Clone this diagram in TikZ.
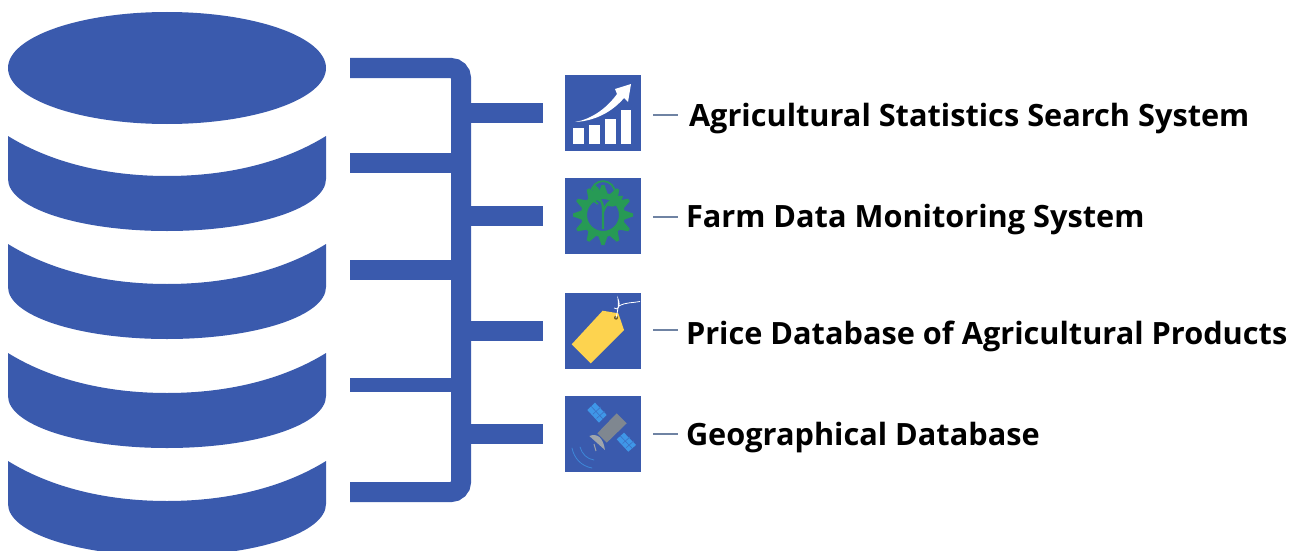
\documentclass[tikz,border=0pt]{standalone}
\usepackage{fontspec}
\setmainfont{Open Sans}
\usetikzlibrary{calc}
\definecolor{dbblue}{HTML}{3A5AAD}
\definecolor{dashc}{HTML}{6F83A3}
\definecolor{gearg}{HTML}{279A55}
\definecolor{tagy}{HTML}{FDD34F}
\definecolor{panelb}{HTML}{3F97E8}
\definecolor{satg}{HTML}{7F8790}
\tikzset{
  band/.style={fill=dbblue,draw=none},
  busline/.style={draw=dbblue,line width=20pt,line cap=butt},
  thinbus/.style={draw=dbblue,line width=14pt,line cap=butt},
  iconbox/.style={draw=none,fill=dbblue,minimum width=76pt,minimum height=76pt,inner sep=0pt,outer sep=0pt},
  tick/.style={draw=dashc,line width=1.8pt},
  label/.style={anchor=west,inner sep=0pt,outer sep=0pt,font=\fontsize{30.7pt}{34pt}\selectfont\bfseries,text=black},
}
\begin{document}
\begin{tikzpicture}[x=1pt,y=-1pt]
\useasboundingbox (0,0) rectangle (1303,551);
% database cylinder
\begin{scope}
\clip (0,0) rectangle (1303,551);
\fill[band] (167,68) ellipse [x radius=159pt,y radius=56pt];
\foreach \y in {136,244,353,461}{
  \fill[band] (8,\y) .. controls (50,{\y+26}) and (105,{\y+40}) .. (167,{\y+40})
     .. controls (229,{\y+40}) and (284,{\y+26}) .. (326,\y)
     -- (326,{\y+43}) .. controls (326,{\y+72}) and (255,{\y+95}) .. (167,{\y+95})
     .. controls (79,{\y+95}) and (8,{\y+72}) .. (8,{\y+43}) -- cycle;
}
\end{scope}
% icons
\node[iconbox] (i1) at (603,113) {};
\node[iconbox] (i2) at (603,216) {};
\node[iconbox] (i3) at (603,331) {};
\node[iconbox] (i4) at (603,434) {};
% labels
\node[label] (t1) at (689,119) {Agricultural Statistics Search System};
\node[label] (t2) at (686,220) {Farm Data Monitoring System};
\node[label] (t3) at (686,336) {Price Database of Agricultural Products};
\node[label] (t4) at (686,438) {Geographical Database};
% bus
\coordinate (top) at (350,68);
\coordinate (bot) at (350,492);
\coordinate (l2) at (350,163);
\coordinate (l3) at (350,270);
\coordinate (l4) at (350,385);
\coordinate (j1) at (461,113);
\coordinate (j2) at (461,216);
\coordinate (j3) at (461,331);
\coordinate (j4) at (461,434);
\draw[busline,rounded corners=10pt] (top) -| (461,280) |- (bot);
\draw[busline] (l2) -- ++(105,0);
\draw[busline] (l3) -- ++(105,0);
\draw[thinbus] (l4) -- ++(105,0);
\draw[busline] (j1) -- (543,113);
\draw[busline] (j2) -- (543,216);
\draw[busline] (j3) -- (543,331);
\draw[busline] (j4) -- (543,434);
% ticks
\coordinate (d1) at (653,115); \coordinate (e1) at (678,115);
\coordinate (d2) at (653,217); \coordinate (e2) at (678,217);
\coordinate (d3) at (653,330); \coordinate (e3) at (678,330);
\coordinate (d4) at (653,434); \coordinate (e4) at (678,434);
\draw[tick] (d1) -- (e1);
\draw[tick] (d2) -- (e2);
\draw[tick] (d3) -- (e3);
\draw[tick] (d4) -- (e4);
% icon 1: chart
\fill[white] (573.3,128.3) rectangle (584,144);
\fill[white] (589.3,125) rectangle (600,144);
\fill[white] (605,119.3) rectangle (615.7,144);
\fill[white] (621,110) rectangle (631,144);
\fill[white] (575,122) .. controls (592,119) and (607,108) .. (617,94)
   -- (615,89) -- (631,84) -- (628,102) -- (624,98)
   .. controls (612,112) and (595,121) .. (575,122) -- cycle;
% icon 2: gear with sprout
\begin{scope}[shift={(603,215)}]
\foreach \a in {0,30,...,330}{
  \fill[gearg,rotate=\a] (-5,-20) -- (-1.5,-30) -- (1.5,-30) -- (5,-20) -- cycle;
}
\draw[gearg,line width=6pt] (0,0) circle (19pt);
\draw[gearg,line width=1.8pt] (-5,-11) arc (245:-65:12pt);
\draw[gearg,line width=2.4pt] (0,14) -- (0,-6) .. controls (0,-12) and (-2,-14) .. (-4,-17);
\draw[gearg,line width=2.4pt] (0,-3) .. controls (2,-9) and (5,-12) .. (8,-14);
\fill[gearg] (-9,-31) .. controls (-13,-22) and (-8,-15) .. (-3,-13) .. controls (1,-20) and (-3,-27) .. (-9,-31) -- cycle;
\fill[gearg] (20,-19) .. controls (11,-20) and (6,-15) .. (5,-9) .. controls (11,-7) and (18,-10) .. (20,-19) -- cycle;
\end{scope}
% icon 3: price tag
\fill[tagy] (571.7,344.3) -- (602.7,310.7) -- (618.3,313.3) -- (624,330) -- (590.7,363.3) -- cycle;
\fill[black!55!tagy] (616,317.7) circle (2pt);
\draw[white,line width=0.8pt] (616,317.7) .. controls (618,310) and (619,304) .. (618,299)
  .. controls (621,306) and (618,311) .. (614,308)
  (619,306) .. controls (626,302) and (633,303) .. (640,301.5);
% icon 4: satellite
\fill[panelb] (587.3,410) -- (595,402.7) -- (606.7,415) -- (599,422.7) -- cycle;
\fill[panelb] (616.7,439.3) -- (624,432.7) -- (636,445) -- (628.3,451.7) -- cycle;
\draw[dbblue!60!panelb,line width=0.6pt]
  (591.2,406.4) -- (602.9,418.9) (593,414.1) -- (600.9,406.9) (596.6,418.4) -- (604.6,411.2)
  (620.4,436) -- (632.2,448.4) (622.6,443.5) -- (630,436.9) (626.3,447.6) -- (634,440.7);
\fill[satg] (616.7,413.3) -- (626.7,423.3) -- (606.7,442.7) -- (597.3,433.3) -- cycle;
\fill[satg!75!white] (589.3,436) .. controls (597,433) and (603,437) .. (605,450) -- cycle;
\draw[satg!75!white,line width=1pt] (594,444) -- (596,451);
\draw[panelb!75!dbblue,line width=0.8pt,line cap=round]
  (572,448) .. controls (574,458) and (581,466) .. (592,468)
  (580,447) .. controls (582,454) and (587,459) .. (594,460);
\end{tikzpicture}
\end{document}
